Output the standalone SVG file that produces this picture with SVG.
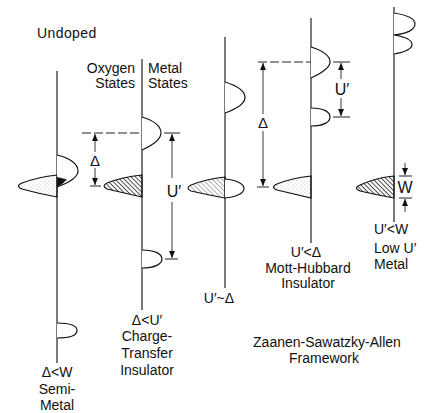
<svg xmlns="http://www.w3.org/2000/svg" width="430" height="413" viewBox="0 0 430 413">
<defs>
<pattern id="hatch" patternUnits="userSpaceOnUse" width="3.2" height="3.2" patternTransform="rotate(45)">
<line x1="0" y1="0.5" x2="3.2" y2="0.5" stroke="#222" stroke-width="0.8"/>
</pattern>
<pattern id="hatchL" patternUnits="userSpaceOnUse" width="3.4" height="3.4" patternTransform="rotate(45)">
<line x1="0" y1="0.5" x2="3.4" y2="0.5" stroke="#777" stroke-width="0.6"/>
</pattern>
<pattern id="stip" patternUnits="userSpaceOnUse" width="4" height="4">
<circle cx="1" cy="1" r="0.45" fill="#666"/>
<circle cx="3" cy="3" r="0.45" fill="#888"/>
</pattern>
<marker id="ah" markerUnits="userSpaceOnUse" markerWidth="8" markerHeight="6" refX="7" refY="3" orient="auto">
<path d="M0,0 L7,3 L0,6 Z" fill="#111"/>
</marker>
<style>
.ax{stroke:#333;stroke-width:1.3;fill:none}
.b{stroke:#111;stroke-width:1.2;fill:#fff}
.o{stroke:#111;stroke-width:1.1}
.d{stroke:#222;stroke-width:1;fill:none;stroke-dasharray:9 3}
.ar{stroke:#222;stroke-width:0.9;fill:none}
.tk{stroke:#222;stroke-width:1;fill:none}
text{font-family:"Liberation Sans",Arial,sans-serif;font-size:14px;fill:#111}
.m{text-anchor:middle}
.e{text-anchor:end}
.lbl{font-size:16px}
</style>
</defs>

<text x="37" y="38" style="letter-spacing:0.4px">Undoped</text>
<text class="e" x="135" y="73">Oxygen</text>
<text class="e" x="135" y="88">States</text>
<text x="148" y="73">Metal</text>
<text x="148" y="88">States</text>

<g id="semi-metal">
<line class="ax" x1="57" y1="71" x2="57" y2="363"/>
<path class="o" fill="url(#stip)" d="M57,175 Q38,177 22,183 Q15,186 22,189 Q40,194 57,197 Z"/>
<path class="b" fill="none" d="M57,155 C70,158 78,164 78,171 C78,178 68,183 57,187"/>
<path d="M57,177 L67,179.5 Q63,184 57,187 Z" fill="#111"/>
<path class="b" d="M57,323 C70,323 77,326 77,330.5 C77,335 70,338 57,338"/>
<text class="m" x="57" y="377">Δ&lt;W</text>
<text class="m" x="57" y="394">Semi-</text>
<text class="m" x="57" y="410">Metal</text>
</g>

<g id="charge-transfer">
<line class="ax" x1="142" y1="59" x2="142" y2="310"/>
<path class="b" d="M142,117 C155,121 161,127 161,133 C161,139 153,145 142,150"/>
<path class="o" fill="url(#hatch)" d="M142,175 Q122,177 107,183 Q101,186 107,189 Q124,193 142,197 Z"/>
<path class="b" d="M142,250 C155,250 162,254 162,259 C162,264 155,268 142,268"/>
<text class="m" x="147" y="325">Δ&lt;U′</text>
<text class="m" x="147" y="341">Charge-</text>
<text class="m" x="147" y="358">Transfer</text>
<text class="m" x="147" y="375">Insulator</text>
</g>

<g id="intermediate">
<line class="ax" x1="225" y1="37" x2="225" y2="288"/>
<path class="b" d="M225,82 C238,86 245,91 245,97.5 C245,104 236,109 225,113"/>
<path class="o" fill="url(#hatchL)" d="M225,177 Q206,179 191,185 Q185,188 191,191 Q208,195 225,198 Z"/>
<path class="b" d="M225,179 C237,180 244,184 244,188.5 C244,193 237,197 225,198"/>
<text class="m" x="219" y="303">U′~Δ</text>
</g>

<g id="mott-hubbard">
<line class="ax" x1="311" y1="18" x2="311" y2="243"/>
<path class="b" d="M311,47 C324,51 330,56 330,62 C330,68 322,73 311,78"/>
<path class="b" d="M311,108 C324,108 330,112 330,117 C330,122 324,126 311,126"/>
<path class="o" fill="url(#stip)" d="M311,176 Q292,178 277,184 Q270,187 277,190 Q294,194 311,198 Z"/>
<text class="m" x="306" y="257">U′&lt;Δ</text>
<text class="m" x="308" y="273">Mott-Hubbard</text>
<text class="m" x="308" y="288">Insulator</text>
</g>

<g id="low-u-metal">
<line class="ax" x1="394" y1="7" x2="394" y2="222"/>
<path class="b" d="M394,13 C407,15 415,19 415,24 C415,30 406,34 394,35"/>
<path class="b" fill="url(#stip)" d="M394,35 C406,37 412,40 412,44.5 C412,49 405,52 394,54"/>
<path class="o" fill="url(#hatch)" d="M394,176 Q375,178 360,185 Q353,188 360,191 Q377,195 394,198 Z"/>
<text x="374" y="234">U′&lt;W</text>
<text x="374" y="253">Low U′</text>
<text x="374" y="269">Metal</text>
</g>

<g id="connectors">
<line class="d" x1="82" y1="133" x2="142" y2="133"/>
<line class="tk" x1="164" y1="133" x2="180" y2="133"/>
<line class="ar" x1="95" y1="152" x2="95" y2="134" marker-end="url(#ah)"/>
<line class="ar" x1="95" y1="168" x2="95" y2="185" marker-end="url(#ah)"/>
<line class="tk" x1="90" y1="186" x2="101" y2="186"/>
<text class="m lbl" x="95" y="166" style="font-size:15px">Δ</text>
<line class="ar" x1="172" y1="178" x2="172" y2="134" marker-end="url(#ah)"/>
<line class="ar" x1="172" y1="202" x2="172" y2="258" marker-end="url(#ah)"/>
<line class="tk" x1="165" y1="259" x2="178" y2="259"/>
<text class="m lbl" x="174" y="197">U′</text>

<line class="d" x1="258" y1="62" x2="311" y2="62"/>
<line class="tk" x1="333" y1="62" x2="350" y2="62"/>
<line class="ar" x1="263" y1="114" x2="263" y2="63" marker-end="url(#ah)"/>
<line class="ar" x1="263" y1="131" x2="263" y2="186" marker-end="url(#ah)"/>
<line class="tk" x1="257" y1="187" x2="269" y2="187"/>
<text class="m lbl" x="263" y="128" style="font-size:15px">Δ</text>
<line class="ar" x1="341" y1="79" x2="341" y2="63" marker-end="url(#ah)"/>
<line class="ar" x1="341" y1="98" x2="341" y2="116" marker-end="url(#ah)"/>
<line class="tk" x1="333" y1="117" x2="350" y2="117"/>
<text class="m lbl" x="342" y="95">U′</text>

<line class="tk" x1="399" y1="176" x2="412" y2="176"/>
<line class="ar" x1="405" y1="163" x2="405" y2="175" marker-end="url(#ah)"/>
<line class="tk" x1="399" y1="198" x2="412" y2="198"/>
<line class="ar" x1="405" y1="212" x2="405" y2="199" marker-end="url(#ah)"/>
<text class="m lbl" x="405" y="193">W</text>
</g>

<text class="m" x="327" y="347">Zaanen-Sawatzky-Allen</text>
<text class="m" x="324" y="363">Framework</text>
</svg>
